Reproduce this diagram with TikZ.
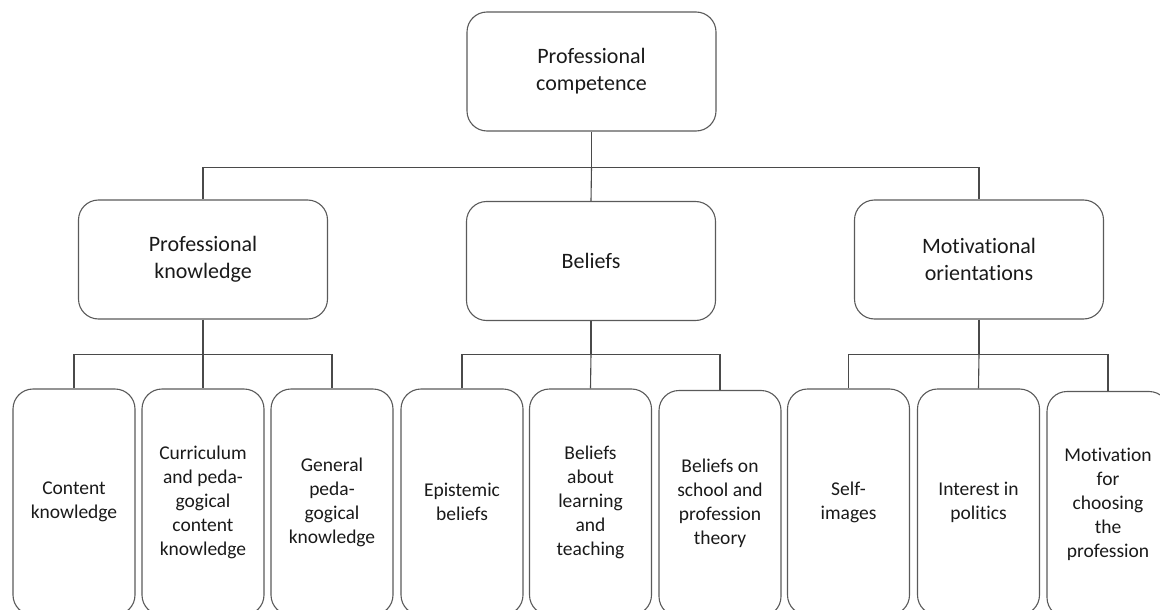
\documentclass[tikz,border=0pt]{standalone}
\usepackage{fontspec}
\setmainfont{Carlito}[Ligatures={NoCommon}]
\definecolor{boxgray}{HTML}{5A5A5A}
\definecolor{linegray}{HTML}{4A4A4A}
\definecolor{inkcol}{HTML}{1A1A1A}
\begin{document}
\begin{tikzpicture}[x=1pt,y=-1pt,
  box/.style={draw=boxgray, line width=1.1pt, rounded corners=20pt,
    align=center, text=inkcol, inner sep=0pt},
  upper/.style={box, minimum width=249pt, minimum height=119pt,
    font=\fontsize{22}{27}\selectfont},
  leaf/.style={box, minimum width=122pt, minimum height=226pt,
    font=\fontsize{19.5}{24}\selectfont},
  link/.style={draw=linegray, line width=1.1pt}]
\useasboundingbox (0,0) rectangle (1160,610);
\clip (0,0) rectangle (1160,610);

% top level
\node[upper] (pc) at (591.5,71.5) {Professional\\competence};

% second level
\node[upper] (pk) at (203,259.5) {Professional\\knowledge};
\node[upper] (be) at (591,261) {Beliefs};
\node[upper] (mo) at (979,259.5) {Motivational\\orientations};

% third level
\node[leaf] (c1) at (74,502)    {Content\\knowledge};
\node[leaf] (c2) at (203,502)   {Curriculum\\and peda-\\gogical\\content\\knowledge};
\node[leaf] (c3) at (332,502)   {General\\peda-\\gogical\\knowledge};
\node[leaf] (b1) at (462,502)   {Epistemic\\beliefs};
\node[leaf] (b2) at (590.5,502) {Beliefs\\about\\learning\\and\\teaching};
\node[leaf] (b3) at (720,503.5) {Beliefs on\\school and\\profession\\theory};
\node[leaf] (m1) at (848.5,502) {Self-\\images};
\node[leaf] (m2) at (978.5,502) {Interest in\\politics};
\node[leaf] (m3) at (1108,504.5) {Motivation\\for\\choosing\\the\\profession};

% connectors: top to second level
\draw[link] (pc.south) -- ++(0,35.5) coordinate (pcbar);
\draw[link] (pk.north) |- (pcbar) -| (mo.north);
\draw[link] (pcbar) -- (be.north);

% connectors: second to third level
\draw[link] (pk.south) -- ++(0,34.5) coordinate (pkbar);
\draw[link] (c1.north) |- (pkbar) -| (c3.north);
\draw[link] (pkbar) -- (c2.north);

\draw[link] (be.south) -- ++(0,33) coordinate (bebar);
\draw[link] (b1.north) |- (bebar) -| (b3.north);
\draw[link] (bebar) -- (b2.north);

\draw[link] (mo.south) -- ++(0,35) coordinate (mobar);
\draw[link] (m1.north) |- (mobar) -| (m3.north);
\draw[link] (mobar) -- (m2.north);
\end{tikzpicture}
\end{document}
